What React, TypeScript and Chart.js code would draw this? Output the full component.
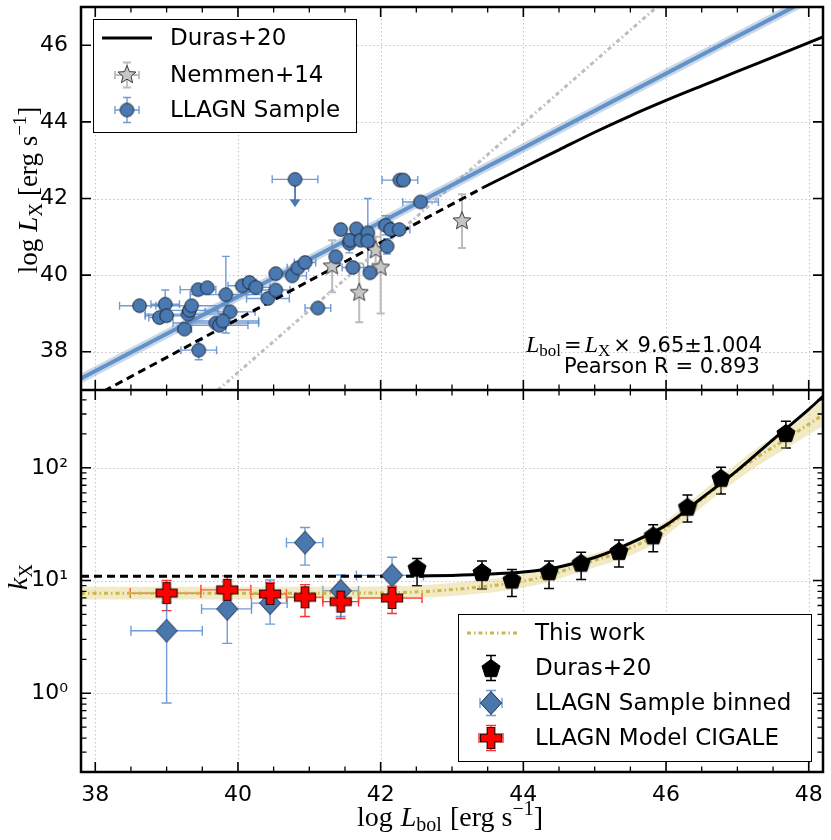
import React, { useEffect, useRef } from 'react';
import { Chart, registerables } from 'chart.js';

Chart.register(...registerables);
Chart.defaults.font.family = '"DejaVu Sans", sans-serif';

// ---- axes ----
const lbolRange = [37.8, 48.2];
const lxRange = [37, 47];
const kxRange = [0.2, 490];
const lbolTicks = [38, 40, 42, 44, 46, 48];
const lbolMinorTicks = [38.5, 39, 39.5, 40.5, 41, 41.5, 42.5, 43, 43.5, 44.5, 45, 45.5, 46.5, 47, 47.5];
const lxTicks = [38, 40, 42, 44, 46];
const kxTicks = [1, 10, 100];
const kxTickLabels = ['10⁰', '10¹', '10²'];
const kxMinorTicks = [0.2, 0.3, 0.4, 0.5, 0.6, 0.7, 0.8, 0.9, 2, 3, 4, 5, 6, 7, 8, 9, 20, 30, 40, 50, 60, 70, 80, 90, 200, 300, 400];

// ---- top panel: LLAGN sample ----
const sampleLbol = [38.62, 38.98, 38.90, 39.00, 39.25, 39.30, 39.32, 39.35, 39.44, 39.57, 39.45, 39.83, 39.89, 39.69, 39.74, 39.79, 40.06, 40.16, 40.25, 40.42, 40.53, 40.53, 40.76, 40.84, 40.94, 41.12, 41.37, 41.44, 41.56, 41.57, 41.61, 41.66, 41.72, 41.82, 41.82, 41.85, 42.07, 42.09, 42.14, 42.26, 42.27, 42.32, 42.56];
const sampleLx = [39.20, 39.24, 38.89, 38.94, 38.59, 38.98, 39.08, 39.20, 39.62, 39.67, 38.04, 39.49, 39.04, 38.75, 38.69, 38.80, 39.72, 39.81, 39.68, 39.39, 39.61, 40.04, 39.98, 40.19, 40.33, 39.14, 40.48, 41.19, 40.83, 40.91, 40.20, 41.21, 40.91, 41.10, 40.89, 40.06, 41.30, 40.75, 41.19, 41.19, 42.48, 42.48, 41.91];
const sampleLbolErr = [0.28, 0.2, 0.15, 0.3, 0.1, 0.6, 0.4, 0.5, 0.25, 0, 0.25, 0.5, 0.35, 0.6, 0.4, 0.5, 0.2, 0.1, 0.2, 0.3, 0.2, 0, 0.2, 0.15, 0.15, 0.18, 0, 0, 0, 0, 0.15, 0, 0, 0, 0, 0, 0.1, 0, 0, 0.15, 0.25, 0, 0.25];
const sampleLxErr = [0.06, 0.37, 0, 0, 0, 0, 0.1, 0, 0, 0, 0.25, 1.0, 0, 0, 0, 0.2, 0, 0, 0, 0, 0, 0, 0, 0, 0, 0, 0, 0, 0.25, 0, 0, 0, 0, 0.9, 0, 0, 0.25, 0.2, 0, 0.1, 0, 0, 0];

// upper limit
const limitLbol = [40.8];
const limitLx = [42.5];
const limitLbolErr = [0.32];
const limitArrowTo = [41.77];

// Nemmen+14
const nemmenLbol = [41.32, 41.70, 41.93, 42.00, 43.14];
const nemmenLx = [40.23, 39.54, 40.65, 40.20, 41.41];
const nemmenLxErr = [0.68, 0.77, 0.35, 1.2, 0.7];

// lines
const fitLbol = [37.8, 48.2];
const fitLx = [37.3, 47.4];
const durasDashLbol = [37.8, 43.43];
const durasDashLx = [36.65, 42.28];
const durasLbol = [43.43, 44.0, 44.5, 45.0, 45.5, 46.0, 46.5, 47.0, 47.5, 48.2];
const durasLx = [42.28, 42.81, 43.27, 43.73, 44.16, 44.56, 44.94, 45.32, 45.69, 46.22];
const nemmenFitLbol = [39.72, 45.87];
const nemmenFitLx = [37.0, 47.0];

// ---- bottom panel ----
const durasKLbol = [42.55, 43.0, 43.5, 44.0, 44.5, 45.0, 45.5, 46.0, 46.5, 47.0, 47.5, 48.0, 48.2];
const durasK = [10.95, 11.1, 11.4, 11.9, 13.2, 16.0, 21.5, 31, 54, 95, 178, 330, 430];
const durasKDashLbol = [37.8, 42.6];
const durasKDash = [10.9, 10.9];

const durasPtLbol = [42.51, 43.42, 43.84, 44.36, 44.81, 45.34, 45.82, 46.30, 46.77, 47.68];
const durasPtK = [13.0, 11.9, 10.2, 12.1, 14.4, 18.3, 25.2, 45.2, 81.5, 204];
const durasPtKLo = [9.0, 8.4, 7.2, 8.5, 10.2, 13.2, 18.0, 33.1, 58.6, 150];
const durasPtKHi = [15.7, 14.9, 12.5, 14.9, 17.8, 22.9, 31.2, 57.4, 101, 259];

const thisWorkLbol = [37.8, 40, 42, 42.46, 43.0, 43.42, 43.84, 44.36, 44.81, 45.34, 45.82, 46.29, 46.77, 47.2, 47.68, 48.2];
const thisWorkK = [7.7, 7.7, 7.75, 7.9, 8.3, 8.8, 9.5, 11.1, 13.9, 17.7, 24.5, 41, 72, 115, 180, 295];
const thisWorkLo = [6.8, 6.8, 6.85, 6.95, 7.3, 7.7, 8.3, 9.7, 12.1, 15.3, 21, 35, 61, 96, 148, 235];
const thisWorkHi = [8.8, 8.8, 8.85, 9.0, 9.5, 10.1, 10.9, 12.7, 15.9, 20.4, 28.3, 47.5, 84, 138, 224, 400];

const binLbol = [39.0, 39.85, 40.45, 40.94, 41.44, 42.16];
const binLbolLo = [38.5, 39.49, 40.19, 40.68, 41.19, 41.66];
const binLbolHi = [39.5, 40.19, 40.69, 41.19, 41.69, 42.6];
const binK = [3.58, 5.6, 6.3, 21.7, 8.1, 11.1];
const binKLo = [0.82, 2.77, 4.1, 13.7, 4.8, 7.75];
const binKHi = [6.45, 8.5, 10.1, 29.5, 11.2, 16.1];

const cigaleLbol = [39.0, 39.85, 40.45, 40.94, 41.44, 42.16];
const cigaleLbolLo = [38.49, 39.48, 40.18, 40.68, 41.19, 41.69];
const cigaleLbolHi = [39.48, 40.18, 40.68, 41.19, 41.69, 42.58];
const cigaleK = [7.73, 8.26, 7.6, 7.1, 6.5, 7.0];
const cigaleKLo = [5.4, 6.0, 5.6, 4.8, 4.6, 5.1];
const cigaleKHi = [10.0, 11.0, 9.6, 9.2, 8.5, 8.9];

// ---- styles ----
const BLUE = '#4a78b0';
const BLUE_ERR = 'rgba(88,138,205,0.85)';
const FIT_BLUE = '#6393c6';
const GREY_ERR = '#bcbcbc';
const YELLOW = '#c9b84e';
const BAND = 'rgba(214,196,90,0.35)';
const GRID = '#c4c4c4';
const SERIF = '"Liberation Serif", "DejaVu Serif", serif';
const SANS = '"DejaVu Sans", sans-serif';
const YELLOW_DASH = [4, 3, 1.5, 3];
const GREY_DASH = [4, 3, 1.5, 3];

const pts = (xs: number[], ys: number[]) => xs.map((x, i) => ({ x, y: ys[i] }));
const shift = (v: number[], e: number[], s: number) => v.map((a, i) => a + s * e[i]);

type Marker = HTMLCanvasElement;
function makeMarker(size: number, path: (ctx: CanvasRenderingContext2D, c: number) => void, fill: string, stroke: string, lw: number): Marker {
  const cv = document.createElement('canvas');
  cv.width = size;
  cv.height = size;
  const ctx = cv.getContext('2d')!;
  ctx.beginPath();
  path(ctx, size / 2);
  ctx.closePath();
  ctx.fillStyle = fill;
  ctx.fill();
  if (lw > 0) {
    ctx.strokeStyle = stroke;
    ctx.lineWidth = lw;
    ctx.stroke();
  }
  return cv;
}
const starPath = (r1: number, r2: number) => (ctx: CanvasRenderingContext2D, c: number) => {
  for (let i = 0; i < 10; i++) {
    const r = i % 2 ? r2 : r1;
    const a = -Math.PI / 2 + (i * Math.PI) / 5;
    if (i) ctx.lineTo(c + r * Math.cos(a), c + r * Math.sin(a));
    else ctx.moveTo(c + r * Math.cos(a), c + r * Math.sin(a));
  }
};
const pentaPath = (r: number) => (ctx: CanvasRenderingContext2D, c: number) => {
  for (let i = 0; i < 5; i++) {
    const a = -Math.PI / 2 + (i * 2 * Math.PI) / 5;
    if (i) ctx.lineTo(c + r * Math.cos(a), c + 1 + r * Math.sin(a));
    else ctx.moveTo(c + r * Math.cos(a), c + 1 + r * Math.sin(a));
  }
};
const plusPath = (h: number, t: number) => (ctx: CanvasRenderingContext2D, c: number) => {
  ctx.moveTo(c - t, c - h);
  ctx.lineTo(c + t, c - h);
  ctx.lineTo(c + t, c - t);
  ctx.lineTo(c + h, c - t);
  ctx.lineTo(c + h, c + t);
  ctx.lineTo(c + t, c + t);
  ctx.lineTo(c + t, c + h);
  ctx.lineTo(c - t, c + h);
  ctx.lineTo(c - t, c + t);
  ctx.lineTo(c - h, c + t);
  ctx.lineTo(c - h, c - t);
  ctx.lineTo(c - t, c - t);
};
const diamondPath = (w: number, h: number) => (ctx: CanvasRenderingContext2D, c: number) => {
  ctx.moveTo(c, c - h);
  ctx.lineTo(c + w, c);
  ctx.lineTo(c, c + h);
  ctx.lineTo(c - w, c);
};
const circlePath = (r: number) => (ctx: CanvasRenderingContext2D, c: number) => {
  ctx.arc(c, c, r, 0, Math.PI * 2);
};

type Run = { t: string; size: number; italic?: boolean; sans?: boolean; dy?: number; gap?: number };
const runFont = (r: Run) => `${r.italic ? 'italic ' : ''}${r.size}px ${r.sans ? SANS : SERIF}`;
function drawRuns(ctx: CanvasRenderingContext2D, runs: Run[], x: number, y: number, align: 'left' | 'center', rotate = false) {
  ctx.save();
  ctx.translate(x, y);
  if (rotate) ctx.rotate(-Math.PI / 2);
  let total = 0;
  const ws = runs.map((r) => {
    ctx.font = runFont(r);
    const w = ctx.measureText(r.t).width + (r.gap || 0);
    total += w;
    return w;
  });
  let cx = align === 'center' ? -total / 2 : 0;
  ctx.fillStyle = '#000';
  ctx.textAlign = 'left';
  ctx.textBaseline = 'alphabetic';
  runs.forEach((r, i) => {
    ctx.font = runFont(r);
    ctx.fillText(r.t, cx, r.dy || 0);
    cx += ws[i];
  });
  ctx.restore();
}

function errCross(ctx: CanvasRenderingContext2D, x: number, y: number, hx: number, hy: number, color: string, lw: number, cap: number) {
  ctx.save();
  ctx.strokeStyle = color;
  ctx.lineWidth = lw;
  ctx.beginPath();
  if (hx > 0) {
    ctx.moveTo(x - hx, y); ctx.lineTo(x + hx, y);
    ctx.moveTo(x - hx, y - cap); ctx.lineTo(x - hx, y + cap);
    ctx.moveTo(x + hx, y - cap); ctx.lineTo(x + hx, y + cap);
  }
  if (hy > 0) {
    ctx.moveTo(x, y - hy); ctx.lineTo(x, y + hy);
    ctx.moveTo(x - cap, y - hy); ctx.lineTo(x + cap, y - hy);
    ctx.moveTo(x - cap, y + hy); ctx.lineTo(x + cap, y + hy);
  }
  ctx.stroke();
  ctx.restore();
}

function drawErrorBars(chart: any) {
  const { ctx, chartArea: a } = chart;
  const sx = chart.scales.x;
  const sy = chart.scales.y;
  ctx.save();
  ctx.beginPath();
  ctx.rect(a.left, a.top, a.right - a.left, a.bottom - a.top);
  ctx.clip();
  ctx.setLineDash([]);
  chart.data.datasets.forEach((ds: any) => {
    const e = ds.errorBars;
    if (!e) return;
    ctx.strokeStyle = e.color;
    ctx.lineWidth = e.width;
    ds.data.forEach((p: any, i: number) => {
      const px = sx.getPixelForValue(p.x);
      const py = sy.getPixelForValue(p.y);
      ctx.beginPath();
      if (e.xLo && e.xHi[i] > e.xLo[i]) {
        const x1 = sx.getPixelForValue(e.xLo[i]);
        const x2 = sx.getPixelForValue(e.xHi[i]);
        ctx.moveTo(x1, py); ctx.lineTo(x2, py);
        ctx.moveTo(x1, py - e.cap); ctx.lineTo(x1, py + e.cap);
        ctx.moveTo(x2, py - e.cap); ctx.lineTo(x2, py + e.cap);
      }
      if (e.yLo && e.yHi[i] > e.yLo[i]) {
        const y1 = sy.getPixelForValue(e.yLo[i]);
        const y2 = sy.getPixelForValue(e.yHi[i]);
        ctx.moveTo(px, y1); ctx.lineTo(px, y2);
        ctx.moveTo(px - e.cap, y1); ctx.lineTo(px + e.cap, y1);
        ctx.moveTo(px - e.cap, y2); ctx.lineTo(px + e.cap, y2);
      }
      ctx.stroke();
    });
  });
  ctx.restore();
}

function panelPlugin(yMajor: number[], yMinor: number[], extra: (chart: any) => void) {
  return {
    id: 'panelDecor',
    beforeDatasetsDraw(chart: any) {
      const { ctx, chartArea: a, scales } = chart;
      ctx.save();
      ctx.strokeStyle = GRID;
      ctx.lineWidth = 1;
      ctx.setLineDash([1.5, 2.5]);
      ctx.beginPath();
      lbolTicks.forEach((v) => {
        const x = Math.round(scales.x.getPixelForValue(v)) + 0.5;
        ctx.moveTo(x, a.top); ctx.lineTo(x, a.bottom);
      });
      yMajor.forEach((v) => {
        const y = Math.round(scales.y.getPixelForValue(v)) + 0.5;
        ctx.moveTo(a.left, y); ctx.lineTo(a.right, y);
      });
      ctx.stroke();
      ctx.restore();
      drawErrorBars(chart);
    },
    afterDatasetsDraw(chart: any) {
      const { ctx, chartArea: a, scales } = chart;
      ctx.save();
      ctx.strokeStyle = '#000';
      ctx.setLineDash([]);
      const mark = (vals: number[], len: number, w: number, horiz: boolean) => {
        ctx.lineWidth = w;
        ctx.beginPath();
        vals.forEach((v) => {
          if (horiz) {
            const x = scales.x.getPixelForValue(v);
            ctx.moveTo(x, a.bottom); ctx.lineTo(x, a.bottom - len);
            ctx.moveTo(x, a.top); ctx.lineTo(x, a.top + len);
          } else {
            const y = scales.y.getPixelForValue(v);
            ctx.moveTo(a.left, y); ctx.lineTo(a.left + len, y);
            ctx.moveTo(a.right, y); ctx.lineTo(a.right - len, y);
          }
        });
        ctx.stroke();
      };
      mark(lbolTicks, 10, 1.6, true);
      mark(lbolMinorTicks, 5.5, 1.3, true);
      mark(yMajor, 10, 1.6, false);
      mark(yMinor, 5.5, 1.3, false);
      ctx.lineWidth = 2.5;
      ctx.strokeRect(a.left, a.top, a.right - a.left, a.bottom - a.top);
      ctx.restore();
      extra(chart);
    },
  };
}

function legendBox(ctx: CanvasRenderingContext2D, x: number, y: number, w: number, h: number) {
  ctx.save();
  ctx.fillStyle = '#fff';
  ctx.fillRect(x, y, w, h);
  ctx.strokeStyle = '#000';
  ctx.lineWidth = 1;
  ctx.strokeRect(x + 0.5, y + 0.5, w, h);
  ctx.restore();
}
function legendText(ctx: CanvasRenderingContext2D, t: string, x: number, y: number) {
  ctx.save();
  ctx.fillStyle = '#000';
  ctx.font = `23px ${SANS}`;
  ctx.textAlign = 'left';
  ctx.textBaseline = 'middle';
  ctx.fillText(t, x, y);
  ctx.restore();
}
function legendLine(ctx: CanvasRenderingContext2D, x1: number, x2: number, y: number, color: string, w: number, dash: number[]) {
  ctx.save();
  ctx.strokeStyle = color;
  ctx.lineWidth = w;
  ctx.setLineDash(dash);
  ctx.beginPath();
  ctx.moveTo(x1, y);
  ctx.lineTo(x2, y);
  ctx.stroke();
  ctx.restore();
}
const stamp = (ctx: CanvasRenderingContext2D, m: Marker, x: number, y: number) => ctx.drawImage(m, x - m.width / 2, y - m.height / 2);

// keep the plot area exactly where the layout puts it
const noPad = (s: any) => {
  s.paddingTop = 0;
  s.paddingBottom = 0;
  s.paddingLeft = 0;
  s.paddingRight = 0;
};

type Markers = { star: Marker; circle: Marker; penta: Marker; diamond: Marker; plus: Marker };

function topConfig(mk: Markers): any {
  const extra = (chart: any) => {
    const { ctx, scales } = chart;
    // upper-limit arrow
    ctx.save();
    ctx.strokeStyle = BLUE;
    ctx.fillStyle = BLUE;
    ctx.lineWidth = 1.8;
    limitLbol.forEach((v, i) => {
      const x = scales.x.getPixelForValue(v);
      const y0 = scales.y.getPixelForValue(limitLx[i]);
      const y1 = scales.y.getPixelForValue(limitArrowTo[i]);
      ctx.beginPath();
      ctx.moveTo(x, y0);
      ctx.lineTo(x, y1 - 6);
      ctx.stroke();
      ctx.beginPath();
      ctx.moveTo(x - 5.5, y1 - 8);
      ctx.lineTo(x + 5.5, y1 - 8);
      ctx.lineTo(x, y1);
      ctx.closePath();
      ctx.fill();
    });
    ctx.restore();
    limitLbol.forEach((v, i) => stamp(ctx, mk.circle, scales.x.getPixelForValue(v), scales.y.getPixelForValue(limitLx[i])));

    // legend
    legendBox(ctx, 93, 19, 263, 113);
    legendLine(ctx, 102, 152, 38, '#000', 3, []);
    legendText(ctx, 'Duras+20', 170, 39);
    errCross(ctx, 127, 75, 12, 12.5, GREY_ERR, 1.8, 4);
    stamp(ctx, mk.star, 127, 75);
    legendText(ctx, 'Nemmen+14', 170, 76);
    errCross(ctx, 127, 110, 12, 12.5, BLUE_ERR, 1.4, 4);
    stamp(ctx, mk.circle, 127, 110);
    legendText(ctx, 'LLAGN Sample', 170, 111);

    // annotation
    drawRuns(ctx, [
      { t: 'L', size: 24, italic: true },
      { t: 'bol', size: 17, dy: 4, gap: 3 },
      { t: '=', size: 21, sans: true, gap: 3 },
      { t: 'L', size: 24, italic: true },
      { t: 'X', size: 17, dy: 4, gap: 3 },
      { t: '× 9.65±1.004', size: 21, sans: true },
    ], 526, 352, 'left');
    drawRuns(ctx, [{ t: 'Pearson R = 0.893', size: 21, sans: true }], 564, 373, 'left');

    // y title
    drawRuns(ctx, [
      { t: 'log', size: 27, gap: 7 },
      { t: 'L', size: 27, italic: true },
      { t: 'X', size: 19, dy: 5, gap: 7 },
      { t: '[erg s', size: 27 },
      { t: '−1', size: 19, dy: -11 },
      { t: ']', size: 27 },
    ], 37, 190, 'center', true);
  };

  return {
    type: 'line',
    data: {
      datasets: [
        {
          data: pts(sampleLbol, sampleLx),
          showLine: false,
          pointStyle: mk.circle,
          pointRadius: 7,
          errorBars: {
            xLo: shift(sampleLbol, sampleLbolErr, -1), xHi: shift(sampleLbol, sampleLbolErr, 1),
            yLo: shift(sampleLx, sampleLxErr, -1), yHi: shift(sampleLx, sampleLxErr, 1),
            color: BLUE_ERR, width: 1.4, cap: 4,
          },
        },
        {
          data: pts(limitLbol, limitLx),
          showLine: false,
          pointRadius: 0,
          errorBars: {
            xLo: shift(limitLbol, limitLbolErr, -1), xHi: shift(limitLbol, limitLbolErr, 1),
            color: BLUE_ERR, width: 1.4, cap: 4,
          },
        },
        {
          data: pts(nemmenLbol, nemmenLx),
          showLine: false,
          pointStyle: mk.star,
          pointRadius: 9,
          errorBars: {
            yLo: shift(nemmenLx, nemmenLxErr, -1), yHi: shift(nemmenLx, nemmenLxErr, 1),
            color: GREY_ERR, width: 2, cap: 4,
          },
        },
        { data: pts(fitLbol, fitLx), borderColor: FIT_BLUE, borderWidth: 4, pointRadius: 0 },
        { data: pts(fitLbol, fitLx), borderColor: 'rgba(99,147,198,0.35)', borderWidth: 9, pointRadius: 0 },
        { data: pts(durasLbol, durasLx), borderColor: '#000', borderWidth: 3, pointRadius: 0, cubicInterpolationMode: 'monotone' },
        { data: pts(durasDashLbol, durasDashLx), borderColor: '#000', borderWidth: 3, borderDash: [8, 5], pointRadius: 0 },
        { data: pts(nemmenFitLbol, nemmenFitLx), borderColor: '#bdbdbd', borderWidth: 3, borderDash: GREY_DASH, pointRadius: 0 },
      ],
    },
    options: {
      responsive: false,
      animation: false,
      events: [],
      layout: { autoPadding: false, padding: { left: 0, right: 8, top: 7, bottom: 0 } },
      plugins: { legend: { display: false }, tooltip: { enabled: false } },
      scales: {
        x: { type: 'linear', min: lbolRange[0], max: lbolRange[1], display: false },
        y: {
          type: 'linear',
          min: lxRange[0],
          max: lxRange[1],
          grid: { display: false },
          border: { display: false },
          afterBuildTicks: (s: any) => { s.ticks = lxTicks.map((v) => ({ value: v })); },
          afterFit: (s: any) => { s.width = 81; noPad(s); },
          ticks: { padding: 5, color: '#000', font: { size: 22, family: SANS } },
        },
      },
    },
    plugins: [panelPlugin(lxTicks, [], extra)],
  };
}

function bottomConfig(mk: Markers): any {
  const extra = (chart: any) => {
    const { ctx } = chart;
    // legend
    const oy = -390;
    legendBox(ctx, 458, 614 + oy, 353, 147);
    legendLine(ctx, 467, 517, 633 + oy, YELLOW, 3, YELLOW_DASH);
    legendText(ctx, 'This work', 535, 634 + oy);
    errCross(ctx, 491, 668 + oy, 0, 12.5, '#000', 1.5, 5);
    stamp(ctx, mk.penta, 491, 668 + oy);
    legendText(ctx, 'Duras+20', 535, 669 + oy);
    errCross(ctx, 491, 703 + oy, 11, 12.5, BLUE_ERR, 1.4, 5);
    stamp(ctx, mk.diamond, 491, 703 + oy);
    legendText(ctx, 'LLAGN Sample binned', 535, 704 + oy);
    errCross(ctx, 491, 738 + oy, 12, 12.5, '#ff3030', 1.4, 5);
    stamp(ctx, mk.plus, 491, 738 + oy);
    legendText(ctx, 'LLAGN Model CIGALE', 535, 739 + oy);

    // titles
    drawRuns(ctx, [
      { t: 'log', size: 28, gap: 8 },
      { t: 'L', size: 28, italic: true },
      { t: 'bol', size: 20, dy: 5, gap: 8 },
      { t: '[erg s', size: 28 },
      { t: '−1', size: 20, dy: -11 },
      { t: ']', size: 28 },
    ], 450, 826 + oy, 'center');
    drawRuns(ctx, [
      { t: 'k', size: 28, italic: true },
      { t: 'X', size: 19, dy: 5 },
    ], 27, 577 + oy, 'center', true);
  };

  return {
    type: 'line',
    data: {
      datasets: [
        {
          data: pts(cigaleLbol, cigaleK),
          showLine: false,
          pointStyle: mk.plus,
          pointRadius: 10,
          errorBars: { xLo: cigaleLbolLo, xHi: cigaleLbolHi, yLo: cigaleKLo, yHi: cigaleKHi, color: '#ff3030', width: 1.4, cap: 5 },
        },
        {
          data: pts(binLbol, binK),
          showLine: false,
          pointStyle: mk.diamond,
          pointRadius: 10,
          errorBars: { xLo: binLbolLo, xHi: binLbolHi, yLo: binKLo, yHi: binKHi, color: BLUE_ERR, width: 1.4, cap: 5 },
        },
        {
          data: pts(durasPtLbol, durasPtK),
          showLine: false,
          pointStyle: mk.penta,
          pointRadius: 9,
          errorBars: { yLo: durasPtKLo, yHi: durasPtKHi, color: '#000', width: 1.5, cap: 5 },
        },
        { data: pts(durasKLbol, durasK), borderColor: '#000', borderWidth: 3, pointRadius: 0, cubicInterpolationMode: 'monotone' },
        { data: pts(durasKDashLbol, durasKDash), borderColor: '#000', borderWidth: 3, borderDash: [8, 5], pointRadius: 0 },
        { data: pts(thisWorkLbol, thisWorkK), borderColor: YELLOW, borderWidth: 3, borderDash: YELLOW_DASH, pointRadius: 0, cubicInterpolationMode: 'monotone' },
        { data: pts(thisWorkLbol, thisWorkHi), borderColor: 'transparent', borderWidth: 0, pointRadius: 0, fill: '+1', backgroundColor: BAND, cubicInterpolationMode: 'monotone' },
        { data: pts(thisWorkLbol, thisWorkLo), borderColor: 'transparent', borderWidth: 0, pointRadius: 0, cubicInterpolationMode: 'monotone' },
      ],
    },
    options: {
      responsive: false,
      animation: false,
      events: [],
      layout: { autoPadding: false, padding: { left: 0, right: 8, top: 0, bottom: 0 } },
      plugins: { legend: { display: false }, tooltip: { enabled: false } },
      scales: {
        x: {
          type: 'linear',
          min: lbolRange[0],
          max: lbolRange[1],
          grid: { display: false },
          border: { display: false },
          afterBuildTicks: (s: any) => { s.ticks = lbolTicks.map((v) => ({ value: v })); },
          afterFit: (s: any) => { s.height = 68; noPad(s); },
          ticks: { padding: 2, color: '#000', maxRotation: 0, font: { size: 22, family: SANS } },
        },
        y: {
          type: 'logarithmic',
          min: kxRange[0],
          max: kxRange[1],
          grid: { display: false },
          border: { display: false },
          afterBuildTicks: (s: any) => { s.ticks = kxTicks.map((v) => ({ value: v })); },
          afterFit: (s: any) => { s.width = 81; noPad(s); },
          ticks: {
            padding: 5,
            color: '#000',
            font: { size: 22, family: SANS },
            callback: (v: number) => kxTickLabels[kxTicks.indexOf(v)] ?? '',
          },
        },
      },
    },
    plugins: [panelPlugin(kxTicks, kxMinorTicks, extra)],
  };
}

export default function App() {
  const topRef = useRef<HTMLCanvasElement | null>(null);
  const botRef = useRef<HTMLCanvasElement | null>(null);

  useEffect(() => {
    document.body.style.margin = '0';
    const mk: Markers = {
      star: makeMarker(22, starPath(9.5, 4.2), '#c6c6c6', '#3a3a3a', 1),
      circle: makeMarker(17, circlePath(6.8), BLUE, '#1c2838', 1),
      penta: makeMarker(22, pentaPath(9.5), '#000', '#000', 1),
      diamond: makeMarker(26, diamondPath(10.5, 11.5), '#4a77ad', '#1d2e45', 1),
      plus: makeMarker(24, plusPath(10.5, 3.8), '#ff0000', '#3a0000', 1.2),
    };
    if (!topRef.current || !botRef.current) return;
    const top = new Chart(topRef.current, topConfig(mk));
    const bot = new Chart(botRef.current, bottomConfig(mk));
    return () => {
      top.destroy();
      bot.destroy();
    };
  }, []);

  return (
    <div style={{ position: 'relative', width: 831, height: 840, background: '#fff' }}>
      <canvas ref={topRef} width={831} height={390} style={{ position: 'absolute', left: 0, top: 0 }} />
      <canvas ref={botRef} width={831} height={450} style={{ position: 'absolute', left: 0, top: 390 }} />
    </div>
  );
}
